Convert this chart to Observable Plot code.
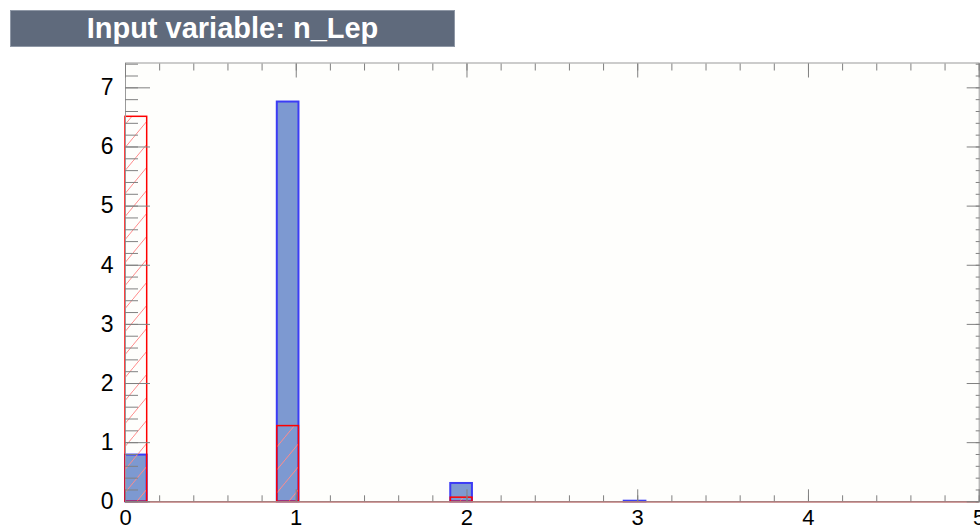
<!DOCTYPE html>
<html>
<head>
<meta charset="utf-8">
<script src="https://cdn.jsdelivr.net/npm/d3@7"></script>
<script src="https://cdn.jsdelivr.net/npm/@observablehq/plot@0.6"></script>
<style>
  html, body { margin: 0; padding: 0; background: #ffffff; }
  #wrap { position: relative; width: 980px; height: 530px; overflow: hidden; }
  #title {
    position: absolute; left: 10px; top: 10px; width: 445px; height: 37px;
    background: #5f6a7c; border: 1px solid #8f98a6; box-sizing: border-box;
    color: #ffffff; font-family: "Liberation Sans", Arial, sans-serif; font-weight: bold;
    font-size: 29px; line-height: 35px; text-align: center; z-index: 2;
  }
  #chart { position: absolute; left: 0; top: 0; }
</style>
</head>
<body>
<div id="wrap">
  <div id="title">Input variable: n_Lep</div>
  <div id="chart"></div>
</div>
<script>
// ---- data ----
const binLow = [0.000, 0.889, 1.905, 2.921];      // lower edges of the filled bins
const binWidth = 0.127;
const signal = [0.79, 6.76, 0.31, 0.01];          // blue, filled
const background = [6.51, 1.28, 0.07, 0.0];       // red, hatched
const xTicks = [0, 1, 2, 3, 4, 5];
const yTicks = [0, 1, 2, 3, 4, 5, 6, 7];
const xMinor = d3.range(0, 26).map(i => i * 0.2);
const yMinor = d3.range(0, 38).map(i => i * 0.2);

const sig = binLow.map((x, i) => ({x1: x, x2: x + binWidth, v: signal[i]}));
const bkg = binLow.map((x, i) => ({x1: x, x2: x + binWidth, v: background[i]}));

const tickColor = "#808080";
const none = () => "";
const intFmt = d => String(d);

const plot = Plot.plot({
  width: 980,
  height: 530,
  marginLeft: 125,
  marginRight: 1.3,
  marginTop: 62.5,
  marginBottom: 28.7,
  x: {domain: [0, 5]},
  y: {domain: [0, 7.42]},
  style: {fontFamily: "'Liberation Sans', Arial, sans-serif", fontSize: "23px", color: "black", background: "transparent", overflow: "visible"},
  marks: [
    Plot.frame({fill: "#fefefc", stroke: "none"}),
    Plot.rectY(sig, {x1: "x1", x2: "x2", y: "v", fill: "#7d99d1", stroke: "#3c3cf5", strokeWidth: 2}),
    Plot.rectY(bkg, {x1: "x1", x2: "x2", y: "v", fill: "url(#hatch)", stroke: "#ff0000", strokeWidth: 1.5}),
    Plot.ruleY([0], {stroke: "#d04040", strokeWidth: 1.5}),
    Plot.frame({stroke: "#9a9a9a", fill: "none"}),
    // left axis
    Plot.axisY(yTicks, {anchor: "left", tickSize: 0, tickPadding: 12, label: null, fontSize: 23, tickFormat: intFmt}),
    Plot.axisY(yTicks, {anchor: "left", tickSize: -25, tickFormat: none, label: null, stroke: tickColor}),
    Plot.axisY(yMinor, {anchor: "left", tickSize: -13, tickFormat: none, label: null, stroke: tickColor}),
    // right axis
    Plot.axisY(yTicks, {anchor: "right", tickSize: -13, tickFormat: none, label: null, stroke: tickColor}),
    Plot.axisY(yMinor, {anchor: "right", tickSize: -4, tickFormat: none, label: null, stroke: tickColor}),
    // bottom axis
    Plot.axisX(xTicks, {anchor: "bottom", tickSize: 0, tickPadding: 8, label: null, fontSize: 22, tickFormat: intFmt}),
    Plot.axisX(xTicks, {anchor: "bottom", tickSize: -12, tickFormat: none, label: null, stroke: tickColor}),
    Plot.axisX(xMinor, {anchor: "bottom", tickSize: -6, tickFormat: none, label: null, stroke: tickColor}),
    // top axis
    Plot.axisX(xTicks, {anchor: "top", tickSize: -14, tickFormat: none, label: null, stroke: tickColor}),
    Plot.axisX(xMinor, {anchor: "top", tickSize: -7, tickFormat: none, label: null, stroke: tickColor})
  ]
});

// hatch pattern for the background histogram
const ns = "http://www.w3.org/2000/svg";
const defs = document.createElementNS(ns, "defs");
defs.innerHTML = `<pattern id="hatch" patternUnits="userSpaceOnUse" x="0" y="0" width="19" height="23">
  <rect width="19" height="23" fill="none"/>
  <path d="M-2,25.4L21,-2.4" stroke="#ff8a8a" stroke-width="1"/>
</pattern>`;
plot.insertBefore(defs, plot.firstChild);

document.getElementById("chart").appendChild(plot);
</script>
</body>
</html>
